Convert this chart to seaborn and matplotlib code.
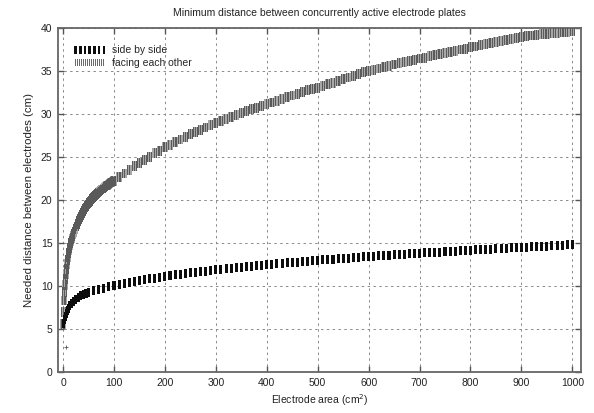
import numpy as np
import pandas as pd
import seaborn as sns
import matplotlib.pyplot as plt
from matplotlib.path import Path
from matplotlib.legend_handler import HandlerPathCollection

# values (x = electrode area in cm^2, y = distance in cm)
x_side = [0, 2, 4, 6, 8, 10, 13, 16, 20, 25, 30, 35, 40, 45, 50] + list(range(60, 1001, 10))
y_side = [5.6, 6.1, 6.5, 6.85, 7.15, 7.4, 7.7, 7.95, 8.2, 8.45, 8.65, 8.85, 9.0, 9.15, 9.25,
          9.45, 9.6, 9.75, 9.88, 10.0,
          10.14, 10.27, 10.39, 10.5, 10.61, 10.72, 10.82, 10.91, 11.01, 11.1,
          11.18, 11.27, 11.35, 11.42, 11.5, 11.58, 11.65, 11.72, 11.79, 11.86,
          11.92, 11.99, 12.05, 12.11, 12.17, 12.23, 12.29, 12.34, 12.4, 12.46,
          12.51, 12.56, 12.62, 12.67, 12.72, 12.77, 12.82, 12.87, 12.91, 12.96,
          13.01, 13.05, 13.1, 13.14, 13.19, 13.23, 13.27, 13.32, 13.36, 13.4,
          13.44, 13.48, 13.52, 13.56, 13.6, 13.64, 13.68, 13.72, 13.75, 13.79,
          13.83, 13.86, 13.9, 13.93, 13.97, 14.01, 14.04, 14.08, 14.11, 14.15,
          14.18, 14.22, 14.25, 14.28, 14.31, 14.35, 14.38, 14.41, 14.44, 14.47,
          14.5, 14.54, 14.57, 14.6, 14.63, 14.66, 14.69, 14.72, 14.75, 14.78]

x_face = list(range(0, 20)) + list(range(20, 100, 2)) + list(range(100, 1001, 10))
y_face = [5.6, 7.0, 8.3, 9.3, 10.1, 10.8, 11.4, 12.0, 12.5, 13.0,
          13.4, 13.8, 14.1, 14.4, 14.7, 14.95, 15.2, 15.4, 15.6, 15.8,
          16.0, 16.3, 16.6, 16.9, 17.2, 17.5, 17.75, 18.0, 18.25, 18.5,
          18.7, 18.9, 19.1, 19.25, 19.45, 19.6, 19.75, 19.9, 20.05, 20.2,
          20.3, 20.45, 20.55, 20.7, 20.8, 20.9, 21.0, 21.1, 21.2, 21.3,
          21.4, 21.5, 21.6, 21.65, 21.75, 21.8, 21.9, 22.0, 22.05, 22.15,
          22.2, 22.6, 23.05, 23.45, 23.9, 24.3, 24.65, 25.0, 25.4, 25.7, 26.1,
          26.4, 26.7, 27.0, 27.3, 27.6, 27.85, 28.1, 28.4, 28.65, 28.9,
          29.15, 29.4, 29.6, 29.85, 30.1, 30.3, 30.5, 30.7, 30.9, 31.1,
          31.3, 31.5, 31.7, 31.9, 32.1, 32.3, 32.5, 32.7, 32.85, 33.0,
          33.2, 33.4, 33.6, 33.8, 34.0, 34.2, 34.4, 34.6, 34.8, 35.0,
          35.1, 35.25, 35.4, 35.55, 35.7, 35.85, 36.0, 36.1, 36.25, 36.4,
          36.5, 36.65, 36.8, 36.9, 37.05, 37.2, 37.3, 37.45, 37.55, 37.7,
          37.8, 37.95, 38.05, 38.2, 38.3, 38.45, 38.55, 38.7, 38.8, 38.9,
          39.0, 39.07, 39.14, 39.21, 39.28, 39.34, 39.4, 39.46, 39.52, 39.58]

x_ticks = list(range(0, 1001, 100))
y_ticks = list(range(0, 41, 5))

side = pd.DataFrame({"area": x_side, "dist": y_side})
face = pd.DataFrame({"area": x_face, "dist": y_face})

sns.set_style("ticks")
plt.rcParams["font.family"] = ["Liberation Sans", "DejaVu Sans"]


def rect(cx, w):
    return [(cx - w / 2, -0.5), (cx + w / 2, -0.5), (cx + w / 2, 0.5), (cx - w / 2, 0.5), (cx - w / 2, -0.5)]


code = [Path.MOVETO, Path.LINETO, Path.LINETO, Path.LINETO, Path.CLOSEPOLY]
bar_marker = Path(rect(0, 0.34), code)
back_marker = Path(rect(0, 0.54), code)
thin_marker = Path(rect(0, 0.12), code)
hatch_verts, hatch_codes = [], []
for cx in (-0.18, 0.0, 0.18):
    hatch_verts += rect(cx, 0.09)
    hatch_codes += code
hatch_marker = Path(hatch_verts, hatch_codes)

fig = plt.figure(figsize=(5.94, 4.13), dpi=100)
ax = fig.add_axes([0.0976, 0.0993, 0.8805, 0.834])

sns.scatterplot(data=side, x="area", y="dist", marker=bar_marker, s=42, color="#0d0d0d",
                linewidth=0, edgecolor="none", ax=ax, zorder=4, legend=False)
sns.scatterplot(data=face, x="area", y="dist", marker=back_marker, s=50, color="#a8a8a8",
                linewidth=0, edgecolor="none", ax=ax, zorder=2, legend=False)
sns.scatterplot(data=face, x="area", y="dist", marker=hatch_marker, s=50, color="#5a5a5a",
                linewidth=0, edgecolor="none", ax=ax, zorder=3, legend=False)
ax.plot([5], [2.9], marker="+", ms=3, mew=0.6, color="#555555", ls="none")

# legend samples
h_side = ax.scatter([], [], marker=bar_marker, s=30, color="#0d0d0d", linewidth=0)
h_face = ax.scatter([], [], marker=thin_marker, s=30, color="#6a6a6a", linewidth=0)

ax.set_xlim(-10, 1017)
ax.set_ylim(0, 40)
ax.set_xticks(x_ticks)
ax.set_yticks(y_ticks)
ax.grid(True, linestyle=(0, (2.5, 3.5)), color="#8a8a8a", lw=0.7)
ax.tick_params(direction="in", top=True, right=True, length=4, width=1,
               color="#555555", labelsize=7.5, labelcolor="#222222", pad=4)
for sp in ax.spines.values():
    sp.set_color("#666666")
    sp.set_linewidth(1.3)

ax.set_title("Minimum distance between concurrently active electrode plates",
             fontsize=7.5, color="#222222", pad=8)
ax.set_xlabel("Electrode area (cm$^2$)", fontsize=7.5, color="#222222", labelpad=3)
ax.set_ylabel("Needed distance between electrodes (cm)", fontsize=8.2, color="#222222", labelpad=5)

ax.legend([h_side, h_face], ["side by side", "facing each other"],
          handler_map={h_side: HandlerPathCollection(numpoints=7, yoffsets=[0.5] * 7),
                       h_face: HandlerPathCollection(numpoints=15, yoffsets=[0.5] * 15)},
          loc="upper left", bbox_to_anchor=(0.02, 0.96), frameon=False, fontsize=7.5,
          handlelength=3.3, handletextpad=0.5, labelspacing=0.25, borderaxespad=0.0)

fig.savefig("out.png", dpi=100)
